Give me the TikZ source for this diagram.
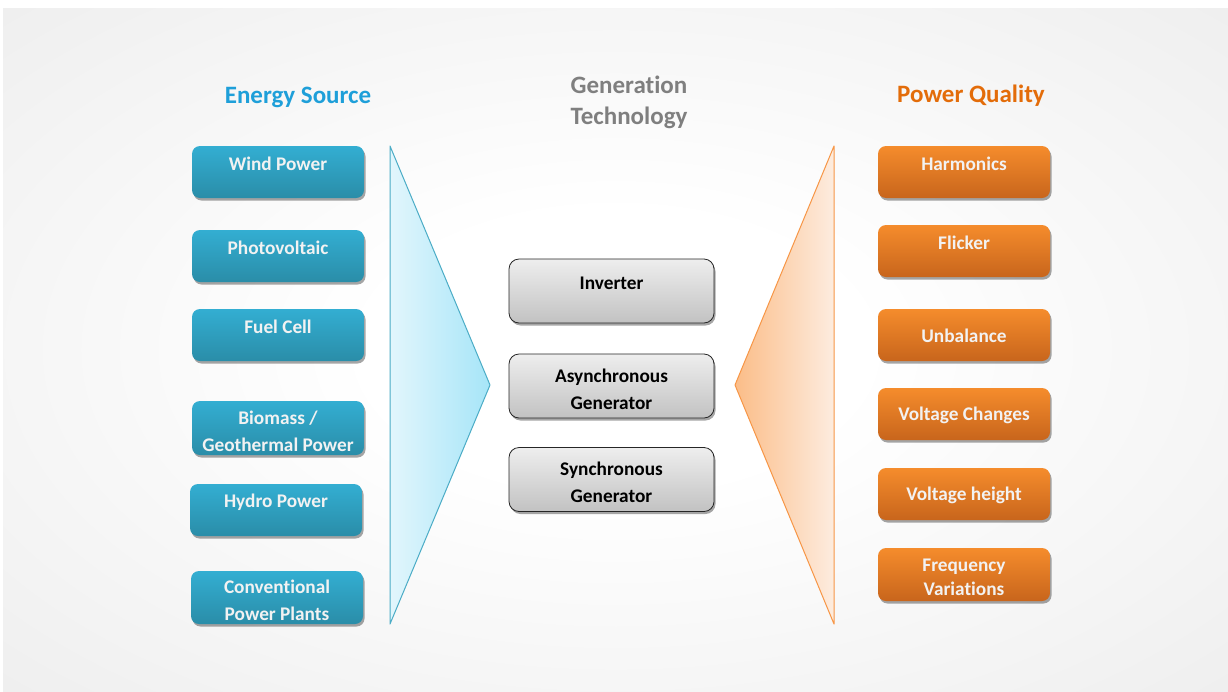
\documentclass[tikz,border=0pt]{standalone}
\usepackage{fontspec}
\setmainfont{Carlito}[Ligatures=NoCommon]
\usetikzlibrary{shadows}
\definecolor{bggray}{HTML}{DEDEDE}
\definecolor{esblue}{HTML}{1E9FD9}
\definecolor{gtgray}{HTML}{7F7F7F}
\definecolor{pqorange}{HTML}{E36C09}
\definecolor{bluetop}{HTML}{33AED2}
\definecolor{bluebot}{HTML}{2A8DA8}
\definecolor{orangetop}{HTML}{F58C2C}
\definecolor{orangebot}{HTML}{C8651C}
\definecolor{graytop}{HTML}{EEEEEE}
\definecolor{graybot}{HTML}{C2C2C2}
\definecolor{triblueL}{HTML}{E2F6FC}
\definecolor{triblueR}{HTML}{A6E5F8}
\definecolor{triblueD}{HTML}{4BACC6}
\definecolor{trioraL}{HTML}{FBBD88}
\definecolor{trioraR}{HTML}{FDECDF}
\definecolor{trioraD}{HTML}{F79646}
\definecolor{boxtextc}{HTML}{F2F2F2}
\pgfdeclareradialshading{bgshade}{\pgfpoint{0bp}{0bp}}{color(0bp)=(white); color(10bp)=(white); color(62bp)=(bggray); color(100bp)=(bggray)}
\tikzset{
  colbox/.style={rounded corners=8pt, minimum width=172pt, minimum height=52pt, inner sep=0pt,
    drop shadow={shadow xshift=1.5pt, shadow yshift=-2.5pt, opacity=0.35, fill=black}},
  bluebox/.style={colbox, top color=bluetop, bottom color=bluebot},
  orangebox/.style={colbox, top color=orangetop, bottom color=orangebot},
  graybox/.style={rounded corners=10pt, minimum width=205pt, minimum height=64pt, inner sep=0pt,
    draw=black!85, line width=0.8pt, top color=graytop, bottom color=graybot,
    drop shadow={shadow xshift=1.5pt, shadow yshift=-2.5pt, opacity=0.35, fill=black}},
  btext/.style={text=boxtextc, font=\bfseries\fontsize{19.3}{27}\selectfont, align=center, inner sep=0pt},
  otext/.style={text=boxtextc, font=\bfseries\fontsize{19.3}{24}\selectfont, align=center, inner sep=0pt},
  gtext/.style={text=black, font=\bfseries\fontsize{19.3}{27}\selectfont, align=center, inner sep=0pt},
  title/.style={font=\bfseries\fontsize{25}{31}\selectfont, align=center, inner sep=0pt},
  bluetri/.style={draw=triblueD, line width=1pt, left color=triblueL, right color=triblueR, line join=round},
  oratri/.style={draw=trioraD, line width=1pt, left color=trioraL, right color=trioraR, line join=round}
}
\begin{document}
\begin{tikzpicture}[x=1pt,y=-1pt]
\useasboundingbox (0,0) rectangle (1228,691);
\shade[shading=bgshade] (3,8) rectangle (1228,691);

% titles
\node[title, text=esblue] (es) at (298,97) {Energy Source};
\node[title, text=gtgray] (gt) at (629,102) {Generation\\Technology};
\node[title, text=pqorange] (pq) at (971,96) {Power Quality};

% triangles
\coordinate (btt) at (390,146);
\coordinate (bta) at (490,385);
\coordinate (btb) at (390,624);
\draw[bluetri] (btt) -- (bta) -- (btb) -- cycle;
\coordinate (ott) at (834,146);
\coordinate (ota) at (735,385);
\coordinate (otb) at (834,624);
\draw[oratri] (ott) -- (ota) -- (otb) -- cycle;

% blue boxes
\node[bluebox] (wind) at (278,172) {};
\node[btext] (windt) at (278,164) {Wind Power};
\node[bluebox] (pv) at (278,256) {};
\node[btext] (pvt) at (278,248) {Photovoltaic};
\node[bluebox] (fc) at (278,335) {};
\node[btext] (fct) at (278,327) {Fuel Cell};
\node[bluebox, minimum height=54pt] (bio) at (278,428) {};
\node[btext] (biot) at (278,431) {Biomass /\\Geothermal Power};
\node[bluebox] (hydro) at (276,510) {};
\node[btext] (hydrot) at (276,502) {Hydro Power};
\node[bluebox, minimum height=53pt] (conv) at (277,597.5) {};
\node[btext] (convt) at (277,600) {Conventional\\Power Plants};

% gray boxes
\node[graybox] (inv) at (611.5,291) {};
\node[gtext] (invt) at (611.5,283) {Inverter};
\node[graybox] (asyn) at (611.5,386) {};
\node[gtext] (asynt) at (611.5,389) {Asynchronous\\Generator};
\node[graybox] (syn) at (611.5,479.5) {};
\node[gtext] (synt) at (611.5,482) {Synchronous\\Generator};

% orange boxes
\node[orangebox] (harm) at (964,172) {};
\node[btext] (harmt) at (964,164) {Harmonics};
\node[orangebox] (flick) at (964,251) {};
\node[btext] (flickt) at (964,243) {Flicker};
\node[orangebox] (unb) at (964,335) {};
\node[btext] (unbt) at (964,336) {Unbalance};
\node[orangebox] (vc) at (964,414) {};
\node[btext] (vct) at (964,415) {Voltage Changes};
\node[orangebox] (vh) at (964,494) {};
\node[btext] (vht) at (964,495) {Voltage height};
\node[orangebox, minimum height=53pt] (fv) at (964,574.5) {};
\node[otext] (fvt) at (964,577) {Frequency\\Variations};
\end{tikzpicture}
\end{document}
